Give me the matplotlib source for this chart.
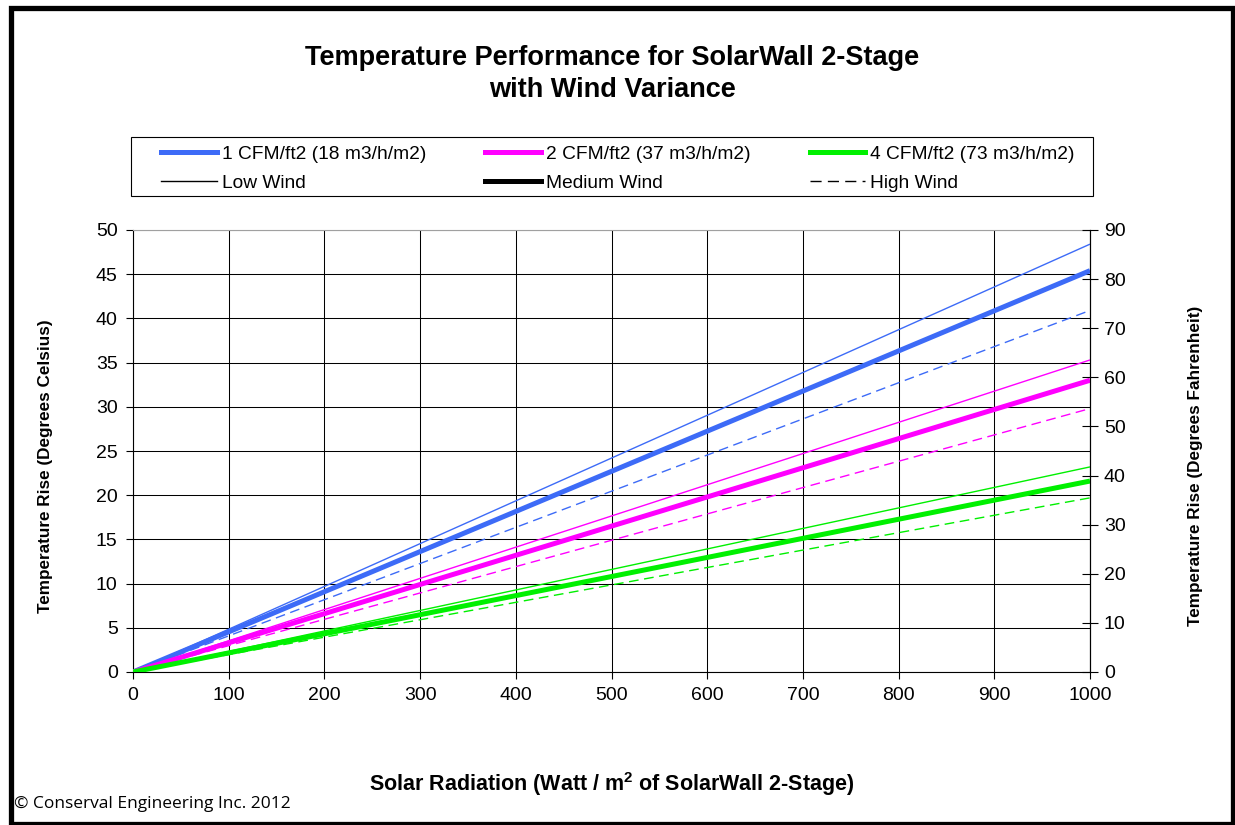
import matplotlib
matplotlib.use("Agg")
from matplotlib import pyplot as plt
from matplotlib.lines import Line2D
from matplotlib.patches import Rectangle

plt.rcParams["font.family"] = ["Liberation Sans", "DejaVu Sans"]
plt.rcParams["mathtext.fontset"] = "custom"
plt.rcParams["mathtext.rm"] = "Liberation Sans"
plt.rcParams["mathtext.bf"] = "Liberation Sans:bold"

# 数据 (W/m2 -> 温升 °C)
radiation = [0, 1000]
cfm1_low = [0, 48.4]
cfm1_med = [0, 45.4]
cfm1_high = [0, 40.9]
cfm2_low = [0, 35.3]
cfm2_med = [0, 33.0]
cfm2_high = [0, 29.8]
cfm4_low = [0, 23.2]
cfm4_med = [0, 21.6]
cfm4_high = [0, 19.7]

flow_labels = ["1 CFM/ft2 (18 m3/h/m2)", "2 CFM/ft2 (37 m3/h/m2)", "4 CFM/ft2 (73 m3/h/m2)"]
wind_labels = ["Low Wind", "Medium Wind", "High Wind"]
x_ticks = [0, 100, 200, 300, 400, 500, 600, 700, 800, 900, 1000]
c_ticks = [0, 5, 10, 15, 20, 25, 30, 35, 40, 45, 50]
f_ticks = [0, 10, 20, 30, 40, 50, 60, 70, 80, 90]

blue, magenta, green = "#3D6BF7", "#FF00FF", "#00F000"
dash = (0, (7, 4))

fig = plt.figure(figsize=(12.35, 8.25), dpi=100)
ax = fig.add_axes([133 / 1235, 1 - 672 / 825, 957 / 1235, 442 / 825])

series = [
    (cfm1_low, blue, 1.0, "-"), (cfm1_med, blue, 3.6, "-"), (cfm1_high, blue, 1.0, dash),
    (cfm2_low, magenta, 1.0, "-"), (cfm2_med, magenta, 3.6, "-"), (cfm2_high, magenta, 1.0, dash),
    (cfm4_low, green, 1.0, "-"), (cfm4_med, green, 3.6, "-"), (cfm4_high, green, 1.0, dash),
]
for vals, col, lw, ls in series:
    ax.plot(radiation, vals, color=col, lw=lw, linestyle=ls, solid_capstyle="butt", zorder=3)

ax.set_xlim(0, 1000)
ax.set_ylim(0, 50)
ax.set_xticks(x_ticks)
ax.set_yticks(c_ticks)
ax.grid(True, color="black", lw=0.75, zorder=0)
ax.tick_params(axis="both", labelsize=14, direction="out", length=5, width=0.8, pad=6)
for s in ["left", "bottom", "right"]:
    ax.spines[s].set_color("black")
ax.spines["top"].set_color("#a0a0a0")
ax.set_xlabel("Solar Radiation (Watt / m$^\\mathbf{2}$ of SolarWall 2-Stage)",
              fontsize=15.5, fontweight="bold")
ax.xaxis.set_label_coords(0.5, -0.222)
ax.set_ylabel("Temperature Rise (Degrees Celsius)", fontsize=12.3, fontweight="bold")
ax.yaxis.set_label_coords(-0.0836, 0.466)

# 右侧华氏度轴
ax2 = ax.twinx()
ax2.set_ylim(0, 90)
ax2.set_yticks(f_ticks)
ax2.tick_params(axis="y", labelsize=14, direction="inout", length=12, width=0.8, pad=4)
ax2.set_ylabel("Temperature Rise (Degrees Fahrenheit)", fontsize=12.3, fontweight="bold")
ax2.yaxis.set_label_coords(1.1024, 0.466)
for s in ["top", "left", "bottom"]:
    ax2.spines[s].set_visible(False)

# 图例
handles = [
    Line2D([], [], color=blue, lw=3.6), Line2D([], [], color="black", lw=1.0),
    Line2D([], [], color=magenta, lw=3.6), Line2D([], [], color="black", lw=3.6),
    Line2D([], [], color=green, lw=3.6), Line2D([], [], color="black", lw=1.0, linestyle=(0, (8, 4.5))),
]
labels = [flow_labels[0], wind_labels[0], flow_labels[1], wind_labels[1], flow_labels[2], wind_labels[2]]
fig.legend(handles, labels, ncol=3, loc="center",
           bbox_to_anchor=(618 / 1235, 1 - 168.5 / 825),
           fontsize=13.8, frameon=False, handlelength=2.9, handletextpad=0.25,
           labelspacing=0.6, borderaxespad=0, borderpad=0, columnspacing=3.1)
fig.patches.append(Rectangle((131 / 1235, 1 - 196 / 825), 962 / 1235, 59 / 825,
                             transform=fig.transFigure, fill=False, lw=0.8, edgecolor="black"))

fig.text(612 / 1235, 1 - 74 / 825, "Temperature Performance for SolarWall 2-Stage\nwith Wind Variance",
         ha="center", va="center", fontsize=19.5, fontweight="bold", linespacing=1.28)
fig.text(14 / 1235, 1 - 804 / 825, "\u00a9 Conserval Engineering Inc. 2012",
         ha="left", va="center", fontsize=12.5, family=["Open Sans", "DejaVu Sans"])

# 外框
fig.patches.append(Rectangle((10.5 / 1235, 1 - 824 / 825), 1222 / 1235, 816.5 / 825,
                             transform=fig.transFigure, fill=False, lw=3.8, edgecolor="black"))

fig.savefig("out.png", dpi=100)
